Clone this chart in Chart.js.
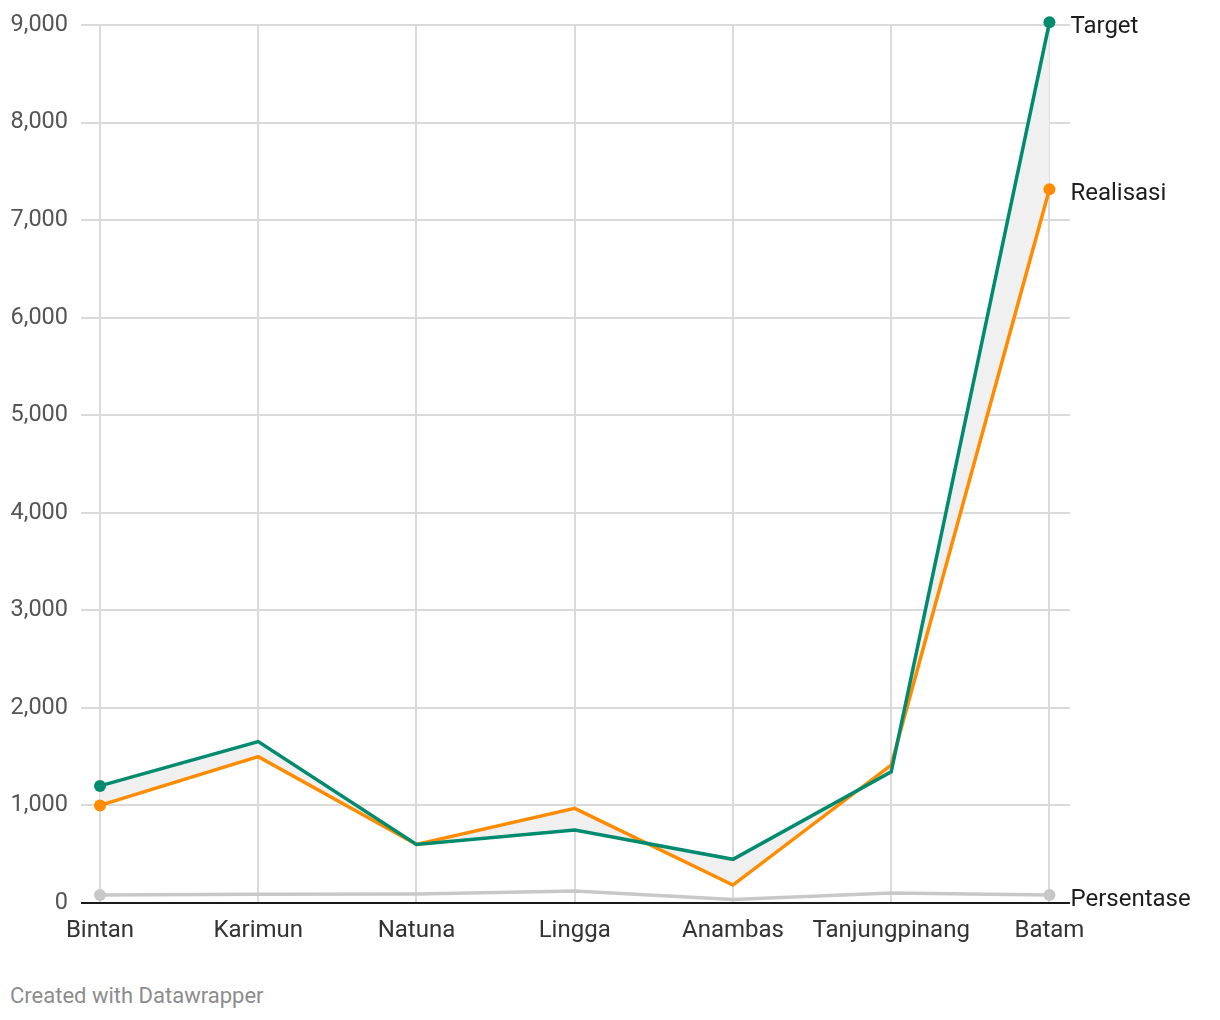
<!DOCTYPE html>
<html>
<head>
<meta charset="utf-8">
<script src="https://cdn.jsdelivr.net/npm/chart.js@4"></script>
<style>
    body { margin: 0; background: #fff; font-family: Roboto, sans-serif; }
    #wrap { width: 1220px; height: 965px; position: relative; }
    .credit { position: absolute; left: 10px; top: 983px; font-size: 22px; color: #8c8c8c; }
</style>
</head>
<body>
<div id="wrap"><canvas id="chart"></canvas></div>
<div class="credit">Created with Datawrapper</div>
<script>
const categories = ['Bintan', 'Karimun', 'Natuna', 'Lingga', 'Anambas', 'Tanjungpinang', 'Batam'];
const target = [1200, 1655, 600, 748, 448, 1345, 9027];
const realisasi = [1000, 1500, 600, 970, 184, 1414, 7317];
const persentase = [82, 90, 93, 123, 35, 103, 82];
const yTicks = [0, 1000, 2000, 3000, 4000, 5000, 6000, 7000, 8000, 9000];

const toPoints = (arr) => arr.map((v, i) => ({x: i, y: v}));
const endDots = (ctx) => (ctx.dataIndex === 0 || ctx.dataIndex === categories.length - 1) ? 6 : 0;

const endLabels = {
    id: 'endLabels',
    afterDatasetsDraw(chart) {
        const c = chart.ctx;
        c.save();
        c.font = '24px Roboto';
        c.fillStyle = '#1d1d1d';
        c.textBaseline = 'middle';
        c.textAlign = 'left';
        chart.data.datasets.forEach((ds, i) => {
            const meta = chart.getDatasetMeta(i);
            const pt = meta.data[meta.data.length - 1];
            c.fillText(ds.label, pt.x + 21, pt.y + 5);
        });
        c.restore();
    }
};

const ctx = document.getElementById('chart').getContext('2d');
new Chart(ctx, {
    type: 'line',
    data: {
        datasets: [
            {
                label: 'Target',
                data: toPoints(target),
                borderColor: '#008b6e',
                backgroundColor: '#f0f0f0',
                pointBackgroundColor: '#008b6e',
                borderWidth: 3.5,
                pointRadius: endDots,
                pointBorderWidth: 0,
                fill: '+1',
                clip: false
            },
            {
                label: 'Realisasi',
                data: toPoints(realisasi),
                borderColor: '#ff8c00',
                pointBackgroundColor: '#ff8c00',
                borderWidth: 3.5,
                pointRadius: endDots,
                pointBorderWidth: 0,
                fill: false,
                clip: false
            },
            {
                label: 'Persentase',
                data: toPoints(persentase),
                borderColor: '#c8c8c8',
                pointBackgroundColor: '#c8c8c8',
                borderWidth: 3.5,
                pointRadius: endDots,
                pointBorderWidth: 0,
                fill: false,
                clip: false
            }
        ]
    },
    options: {
        responsive: true,
        maintainAspectRatio: false,
        animation: false,
        events: [],
        layout: {
            padding: {top: 25, right: 150, left: 0, bottom: 0}
        },
        plugins: {
            legend: {display: false},
            tooltip: {enabled: false},
            filler: {drawTime: 'beforeDatasetsDraw'}
        },
        elements: {
            line: {tension: 0}
        },
        scales: {
            x: {
                type: 'linear',
                min: -0.12,
                max: 6.13,
                afterFit: (scale) => {
                    scale.height = 62;
                    scale.paddingLeft = 0;
                    scale.paddingRight = 0;
                },
                border: {display: false},
                grid: {
                    color: '#dadada',
                    lineWidth: 2,
                    drawTicks: false
                },
                ticks: {
                    stepSize: 1,
                    includeBounds: false,
                    padding: 14,
                    color: '#333333',
                    font: {family: 'Roboto', size: 24},
                    maxRotation: 0,
                    autoSkip: false,
                    callback: (v) => Number.isInteger(v) ? categories[v] : ''
                }
            },
            y: {
                min: 0,
                max: 9000,
                afterFit: (scale) => {
                    scale.width = 81;
                    scale.paddingTop = 0;
                    scale.paddingBottom = 0;
                },
                afterBuildTicks: (scale) => { scale.ticks = yTicks.map(v => ({value: v})); },
                border: {display: false},
                grid: {
                    color: (c) => c.tick && c.tick.value === 0 ? '#1a1a1a' : '#dadada',
                    lineWidth: 2,
                    drawTicks: false
                },
                ticks: {
                    padding: 13,
                    color: '#555555',
                    font: {family: 'Roboto', size: 23.5},
                    callback: (v) => v.toLocaleString('en-US')
                }
            }
        }
    },
    plugins: [endLabels]
});
</script>
</body>
</html>
